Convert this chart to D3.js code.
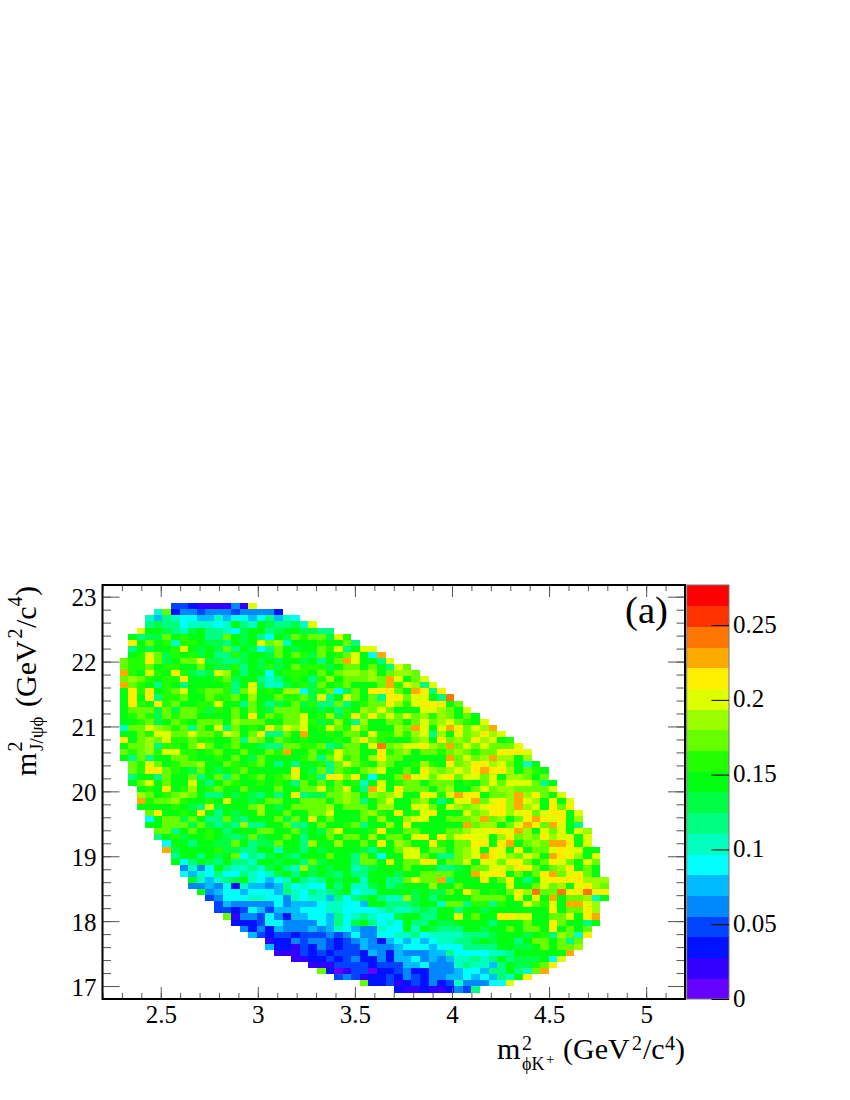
<!DOCTYPE html>
<html>
<head>
<meta charset="utf-8">
<script src="https://cdn.jsdelivr.net/npm/d3@7"></script>
<style>
html,body{margin:0;padding:0;background:#fff}
svg{display:block}
text{font-family:"Liberation Serif",serif;fill:#000}
</style>
</head>
<body>
<svg id="c" width="850" height="1100"></svg>
<script>
const xTicks = [2.5, 3, 3.5, 4, 4.5, 5];
const yTicks = [17, 18, 19, 20, 21, 22, 23];
const zTicks = [0, 0.05, 0.1, 0.15, 0.2, 0.25];
const palette = ["#6600ff","#3300ff","#0011ff","#0044ff","#0088ff","#00bbff","#00ffff","#00ffc0","#00ff80","#00ff44",
                 "#00ff11","#22ff00","#66ff00","#99ff00","#ddff00","#ffee00","#ffaa00","#ff7700","#ff3300","#ff0000"];
const zMax = 0.2768;
const binWidth = 0.0442, binHeight = 0.09375, firstBinX = 2.288, topBinY = 22.9;
// first filled column of every row, top row first
const rowStart = [6,4,3,3,2,1,1,1,1,0,0,0,0,0,0,0,0,0,0,0,0,0,0,0,0,0,1,1,1,1,2,2,2,2,3,3,3,4,4,5,5,6,6,7,7,8,8,9,10,11,11,12,13,14,15,17,17,18,20,22,23,25,28,32];
// colour level read for each cell, base-20 digit, top row first
const rowLevels = [
"3321111 41e",
"7c24434443 44442",
"7587665575 66568576",
"8988677767 a87a98897e",
"eaa9879a88 769aa89aa9 988",
"a899cabaa8 8ca9a86a9c bcc9eb",
"facab7bba9 98a9aecd7a aabaac8",
"8a9aabea9a 9c8a968ca9 aacbe8aee",
"abec9bab9a 88b9aa9cac b9cabcea6g",
"cbbfc9acce 99889a9a9a a9a8acg eaa8e",
"cbbcabbaac a99b8a9b9a cbbb9ac caca8ec",
"gbaebafb98 9eda8aa6ab bbacacd dcdacddc",
"cdcbabbfaa abc9aa878a ba8bdac ccdcgeace",
"gcba8ba8aa aab8ae9779 ab9cabc aaacgbed8e",
"afbfabceab ccb8ceabad d69bc69 cafffcagf8f",
"afaf8bbcaa cbbcadaacb bc9e8ae cac8ffceea8h",
"afbafbcaab beaa8ca89a c9b88c8 abccfdbefffac",
"accc9c9ccb 9bacaca9cc caa9a8b adcecaaaeedcae",
"abcb9cbcca aaacafacbc ceabd9b fcfcececdbdcaca",
"aabc9acbac ccadcccaac ceb9ada 8daaccacecdecbae",
"7ccedcbc8c ae8cabafce deabecb ecaaadcgeaegfcedg",
"aacbeeccec cbedacf88c agaabac caebbdbde8daecdfde",
"facdcebbcb baac8dcacb abaaaba dfcbaaacdafcdcfdeab",
"accd8bbacf cabcaa988c cbbc89c caehcdeefdcgcececcce",
"cbcdbeebba bcaacaacbg aacabec caafbcdaccbcdcbccfffe",
"a8c8aaccba abaca9caaa abc8ceb cadfccaaaaagcecdgddad",
"cbecabccda acbabca8a8 aab8ce cbadcaabdbafcdffdeca7a",
"cbffcba9ca 9abcaaaaaf a9c8cb acdeaacafdcdedfgffdacba",
"8aa8caac8a c8cabcabce ab8ffc fa6aacgeecefceeceaddcac",
"aceacaaea8 acbaababa8 cacaca b7aeabccacccabacecee ec8a",
"abafabdabc aacaaacaac cebce a8geafcccacdaacecddcccce",
"dcabcdca88 a9a98a8af8 99ccd cadcdeaafebegffaccdgdfcae",
"gbccdbaaba eaa9accaac ccacd c8aceaacda8aeegcefdgedafae",
"aaaaba98e9 aaacda9acc ccdac ccaddaaeecaedcdeffdgdeafcf",
"cfaabafa8a 9aadaacaac ceaa acdbafabefaaaecdffdefceffae",
"6acc9ca88c 98aaac9cae acaa acadaadeeaacccdgcdacfgfefad",
"aaccc9c989 8d88aac88a caab c8aadafaaaaaagcddacegfcgea8",
"cc8acaba8a aaccaac9a9 cea aabfaaccaaaccdeeffegdaeceaed",
"8ab9aaba98 9c9aaca8aa cac cadaccaefafcefeeadfcdcfdeeae",
"6aa8aa99ca 899caa8daa da acafadcaafbaccffafgacdcggfae",
"g9aaaab998 8aa7aa8a9a aa a98aaceeaccacdeafeafaccefeeaa",
"8aa8a9ac68 79a98aaaca a 8ca6aaeeca88cdegfedcedagffdae",
"a68a98a887 aa9aa8c9aa a 8ccaeaccffacceaeecffcacfecaec",
"4746a87787 9a87d9a9aa 789aaacaaa889acceedffcacdfaca",
"6576866876 79a8a9a98a 88aaa9aaccccaagEffacacfgcefca",
"a75789a765 67a878a9aa 7aa88ceccg8aaafacfa8aeffffddd",
"4454627554 586766a8a7 79a89aaada acaaaaaeaa cecdaefdc",
"a456656665 8768789a 677aaaa9a9 9cafcabacf dhcchffhff",
"3466677664 7677586 89a877d9a8 aaaaccccae aeagaccd7a",
"3544444645 556776 65aa8889aa 7cc8bb8baa ecbeagged",
"3323653555 666776 6667877898 aa8aa9aaaa aaafaccfd",
"c144364255 66586 787669aa88 aaeacaaffe eaacceafg",
"2223664444 6586 9a8676a88a 99aaaa8aaa caafcaa8a",
"4242544454 576 544766a7a9 888aa9aaca ccafacac",
"5323323334 34 6446677867 7778889aaa 9ab8dc7f",
"1224344323 4542565656 77889a9aa8 accac8c",
"5221324323 3544456665 6668888aa9 9acaccd",
"111323233 3254254445 586666778a aaaaag",
"1122323 4224255645 4577878a89 99a6e",
"11133 3323335564 44787758a9 9bcf",
"c201 3302234224 44566588a8 7cg",
"3431223243 2445565658 7af",
"c223123242 3744466e",
"2112112438"
];

const x = d3.scaleLinear().domain([2.2, 5.2]).range([102.5, 685]);
const y = d3.scaleLinear().domain([16.8, 23.18]).range([999, 585]);
const z = d3.scaleLinear().domain([0, zMax]).range([999, 585]);
const colour = d3.scaleQuantize().domain([0, zMax]).range(palette);
const levelStep = zMax / palette.length;

const cells = [];
rowLevels.forEach((row, r) => {
  [...row.replace(/ /g, "").toLowerCase()].forEach((ch, i) => {
    const col = rowStart[r] + i;
    cells.push({
      x0: firstBinX + binWidth * col,
      y1: topBinY - binHeight * r,
      value: (parseInt(ch, 20) + 0.5) * levelStep
    });
  });
});

const svg = d3.select("#c");

svg.append("g").selectAll("rect").data(cells).join("rect")
  .attr("x", d => x(d.x0))
  .attr("y", d => y(d.y1))
  .attr("width", x(binWidth) - x(0))
  .attr("height", y(0) - y(binHeight))
  .attr("fill", d => colour(d.value))
  .attr("shape-rendering", "crispEdges");

// colour bar
const barX0 = 686.7, barX1 = 729;
svg.append("g").selectAll("rect").data(palette).join("rect")
  .attr("x", barX0)
  .attr("y", (c, i) => z((i + 1) * levelStep))
  .attr("width", barX1 - barX0)
  .attr("height", z(0) - z(levelStep) + 0.4)
  .attr("fill", c => c)
  .attr("shape-rendering", "crispEdges");
svg.append("rect").attr("x", barX0).attr("y", 585).attr("width", barX1 - barX0).attr("height", 414)
  .attr("fill", "none").attr("stroke", "#777").attr("stroke-width", 1);

const labelSize = 25;
function styleAxis(g, dy) {
  g.select(".domain").remove();
  g.selectAll(".tick line").attr("stroke", "#555").attr("stroke-width", 1);
  g.selectAll(".tick text").style("font-size", labelSize + "px");
  if (dy) g.selectAll(".tick text").attr("dy", dy);
}

const xMinor = d3.range(2.2, 5.2001, 0.1);
const yMinor = d3.range(17, 23.1, 0.2);
const plotH = 414, plotW = 582.5;

const addAxis = (axis, tx, ty, dy) => {
  const g = svg.append("g").attr("transform", `translate(${tx},${ty})`).call(axis);
  styleAxis(g, dy);
  return g;
};

// x axis, bottom and top
addAxis(d3.axisBottom(x).tickValues(xMinor).tickSize(-6).tickFormat(""), 0, 999);
addAxis(d3.axisBottom(x).tickValues(xTicks).tickSize(-12).tickPadding(6).tickFormat(d3.format("~g")), 0, 999);
addAxis(d3.axisTop(x).tickValues(xMinor).tickSize(-6).tickFormat(""), 0, 585);
addAxis(d3.axisTop(x).tickValues(xTicks).tickSize(-12).tickFormat(""), 0, 585);
// y axis, left and right
addAxis(d3.axisLeft(y).tickValues(yMinor).tickSize(-8.5).tickFormat(""), 102.5, 0);
addAxis(d3.axisLeft(y).tickValues(yTicks).tickSize(-17).tickPadding(6).tickFormat(d3.format("d")), 102.5, 0, "0.36em");
addAxis(d3.axisRight(y).tickValues(yMinor).tickSize(-8.5).tickFormat(""), 685, 0);
addAxis(d3.axisRight(y).tickValues(yTicks).tickSize(-17).tickFormat(""), 685, 0);
// colour bar axis
const zg = svg.append("g").attr("transform", `translate(${barX1},0)`)
  .call(d3.axisRight(z).tickValues(zTicks).tickSize(-17.5).tickPadding(4).tickFormat(d3.format("~g")));
zg.select(".domain").remove();
zg.selectAll(".tick line").attr("stroke", "#000").attr("stroke-width", 1);
zg.selectAll(".tick text").style("font-size", labelSize + "px").attr("dy", "0.28em");

// frame
svg.append("rect").attr("x", 102.5).attr("y", 585).attr("width", plotW).attr("height", plotH)
  .attr("fill", "none").attr("stroke", "#000").attr("stroke-width", 2);

// labels: [text, font size, offset along the baseline, offset across it]
function title(sel, parts) {
  parts.forEach(([t, size, along, across]) => {
    sel.append("tspan").text(t).style("font-size", size + "px").attr("x", along).attr("y", across);
  });
}
title(svg.append("text").attr("transform", "translate(497,1059)"), [
  ["m", 30, 0, 0], ["2", 20, 25, -9],
  ["ϕK", 18, 25, 11], ["+", 15, 49, 5],
  ["(GeV", 30, 66, 0], ["2", 20, 135, -9], ["/c", 30, 146, 0], ["4", 20, 168, -9], [")", 30, 178, 0]
]);
title(svg.append("text").attr("transform", "translate(35.5,776) rotate(-90)"), [
  ["m", 30, 0, 0], ["2", 20, 24.5, -13.5],
  ["J/ψϕ", 19, 25, 7],
  ["(GeV", 30, 69, 0], ["2", 20, 137.5, -14], ["/c", 30, 148, 0], ["4", 20, 169.5, -14], [")", 30, 180, 0]
]);
svg.append("text").attr("x", 625).attr("y", 623).style("font-size", "38.7px").text("(a)");
</script>
</body>
</html>
